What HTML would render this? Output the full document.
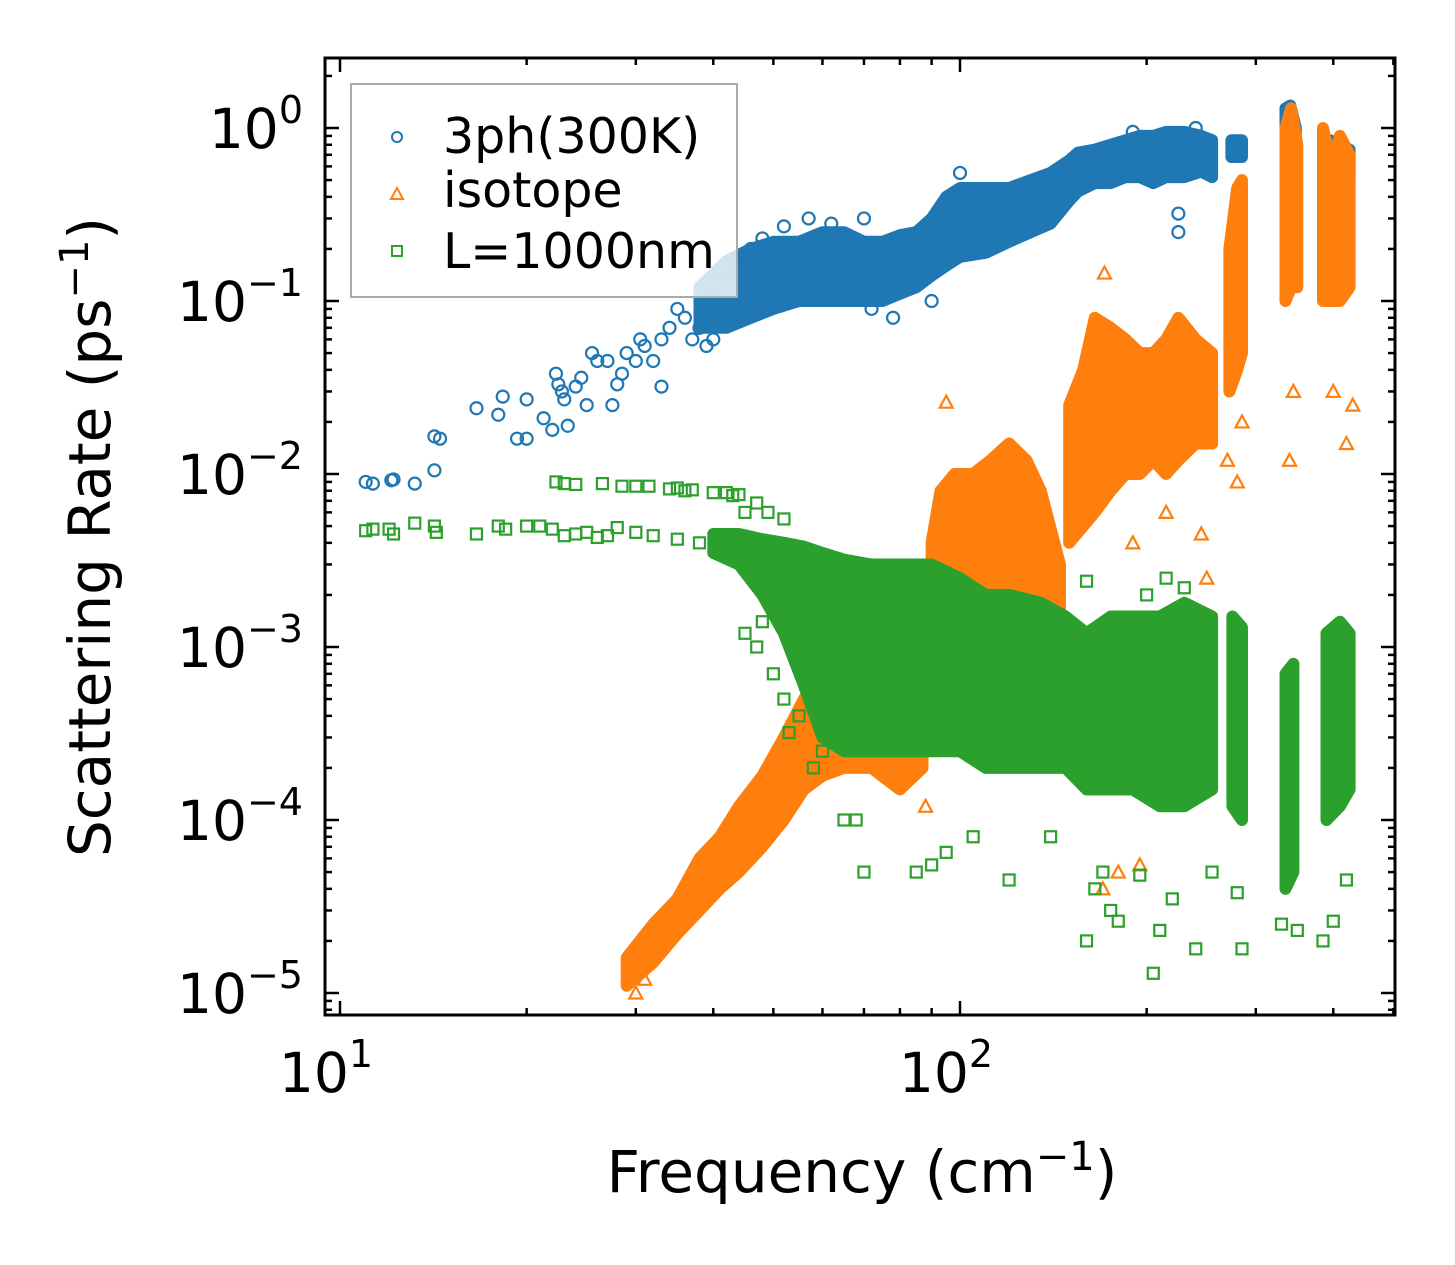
<!DOCTYPE html>
<html><head><meta charset="utf-8"><style>
html,body{margin:0;padding:0;background:#fff;}
svg{display:block;font-family:"DejaVu Sans","Liberation Sans",sans-serif;}
</style></head><body>
<svg id="chart" width="1455" height="1265" viewBox="0 0 1455 1265" xmlns="http://www.w3.org/2000/svg">
<rect width="1455" height="1265" fill="#fff"/>
<g id="data"></g>
<g id="axes"></g>
<text transform="translate(110,537) rotate(-90)" text-anchor="middle" font-size="58">Scattering Rate (ps<tspan dy="-22" font-size="40">−1</tspan><tspan dy="22">)</tspan></text>
<text x="862" y="1192" text-anchor="middle" font-size="58">Frequency (cm<tspan dy="-22" font-size="40">−1</tspan><tspan dy="22">)</tspan></text>
<g>
<rect x="351" y="84" width="386" height="213" fill="#fff" fill-opacity="0.8" stroke="#aaa" stroke-width="2"/>
<g><circle cx="397" cy="137" r="5" fill="none" stroke="#1f77b4" stroke-width="2"/><text x="443" y="153" font-size="49">3ph(300K)</text></g>
<g><path d="M391,199 L397,188 L403,199 Z" fill="none" stroke="#ff7f0e" stroke-width="2"/><text x="443" y="207" font-size="49">isotope</text></g>
<g><rect x="392" y="246" width="10" height="10" fill="none" stroke="#2ca02c" stroke-width="2"/><text x="443" y="268" font-size="49">L=1000nm</text></g>
</g>
</svg>
<script>
const xTicks=[10,100];
const yTicks=[0,-1,-2,-3,-4,-5];
const blueBands=[
[[38,0.07,0.12],[42,0.07,0.17],[46,0.08,0.2],[50,0.09,0.22],[55,0.1,0.22],[60,0.1,0.25],[65,0.1,0.25],[70,0.1,0.22],[75,0.1,0.22],[80,0.11,0.24],[85,0.12,0.25],[90,0.14,0.3],[95,0.16,0.4],[100,0.18,0.45],[110,0.19,0.45],[120,0.22,0.45],[130,0.25,0.5],[140,0.28,0.55],[150,0.38,0.65],[155,0.43,0.72],[165,0.48,0.75],[175,0.48,0.8],[185,0.52,0.85],[195,0.52,0.9],[205,0.48,0.9],[215,0.52,0.95],[230,0.52,0.95],[245,0.56,0.9],[255,0.52,0.85]],
[[274,0.68,0.85],[285,0.68,0.85]],
[[335,0.4,1.3],[341,0.45,1.35],[348,0.4,1.0]],
[[395,0.5,0.85],[410,0.5,0.8],[425,0.5,0.75]]];
const blueScatter=[[11.0,0.009],[11.3,0.0088],[12.1,0.0092],[12.2,0.0093],[13.2,0.0088],[14.2,0.0105],[14.2,0.0165],[14.5,0.016],[16.6,0.024],[18.0,0.022],[18.3,0.028],[19.3,0.016],[20.0,0.016],[20.0,0.027],[21.3,0.021],[22.0,0.018],[22.3,0.038],[22.5,0.033],[22.8,0.03],[23.3,0.019],[23.0,0.027],[24.0,0.032],[24.5,0.036],[25,0.025],[25.5,0.05],[26,0.045],[27,0.045],[27.5,0.025],[28,0.033],[28.5,0.038],[29,0.05],[30,0.045],[30.5,0.06],[31,0.055],[32,0.045],[33,0.032],[33,0.06],[34,0.07],[35,0.09],[36,0.08],[37,0.06],[38,0.07],[38.5,0.1],[39,0.055],[40,0.06],[41,0.12],[42,0.15],[44,0.18],[46,0.2],[48,0.23],[52,0.27],[57,0.3],[62,0.28],[70,0.3],[72,0.09],[78,0.08],[90,0.1],[100,0.55],[150,0.55],[190,0.95],[225,0.25],[225,0.32],[240,1.0]];
const orangeBands=[
[[29,1.1e-5,1.6e-5],[32,1.5e-5,2.5e-5],[35,2.2e-5,3.5e-5],[38,3e-5,6e-5],[41,4e-5,8e-5],[44,5e-5,1.2e-4],[48,7e-5,1.8e-4],[52,1e-4,3e-4],[56,1.5e-4,5e-4],[60,1.8e-4,7e-4],[65,2e-4,8e-4],[72,2e-4,6e-4],[80,1.5e-4,5e-4],[87,2e-4,5e-4]],
[[90,5e-4,4e-3],[93,1e-3,8e-3],[98,1.5e-3,1e-2],[105,1.5e-3,1e-2],[112,1.5e-3,1.2e-2],[120,1.2e-3,1.5e-2],[128,1e-3,1.2e-2],[135,8e-4,8e-3],[145,5e-4,3e-3]],
[[150,4e-3,2.5e-2],[158,5e-3,4e-2],[165,6e-3,8e-2],[175,8e-3,7e-2],[185,1e-2,6e-2],[195,1e-2,5e-2],[205,1.2e-2,5e-2],[215,1e-2,6e-2],[225,1.2e-2,8e-2],[240,1.5e-2,6e-2],[255,1.5e-2,5e-2]],
[[272,3e-2,0.2],[280,4e-2,0.45],[285,5e-2,0.5]],
[[335,0.1,1.0],[342,0.12,1.3],[350,0.12,0.8]],
[[385,0.1,1.0],[398,0.1,0.6],[410,0.1,0.9],[425,0.12,0.7]]];
const orangeScatter=[[95,0.026],[171,0.145],[190,0.004],[210,0.013],[215,0.006],[245,0.0045],[250,0.0025],[270,0.012],[280,0.009],[285,0.02],[340,0.012],[345,0.03],[400,0.03],[420,0.015],[430,0.025],[88,1.2e-4],[180,5e-5],[170,4e-5],[195,5.5e-5],[30,1e-5],[31,1.2e-5]];
const greenBands=[
[[40,3.5e-3,4.5e-3],[44,3e-3,4.5e-3],[48,2e-3,4.2e-3],[52,1.2e-3,4e-3],[56,6e-4,3.8e-3],[60,3e-4,3.5e-3],[65,2.5e-4,3.2e-3],[72,2.5e-4,3e-3],[80,2.5e-4,3e-3],[90,2.5e-4,3e-3],[100,2.5e-4,2.5e-3],[110,2e-4,2e-3],[120,2e-4,2e-3],[135,2e-4,1.8e-3],[148,2e-4,1.5e-3],[160,1.5e-4,1.2e-3],[175,1.5e-4,1.5e-3],[190,1.5e-4,1.5e-3],[210,1.2e-4,1.5e-3],[230,1.2e-4,1.8e-3],[255,1.5e-4,1.5e-3]],
[[275,1.2e-4,1.5e-3],[285,1e-4,1.3e-3]],
[[335,4e-5,7e-4],[345,5e-5,8e-4]],
[[390,1e-4,1.2e-3],[410,1.2e-4,1.4e-3],[425,1.5e-4,1.2e-3]]];
const greenScatter=[[11,0.0047],[11.3,0.0048],[12,0.0048],[12.2,0.0045],[13.2,0.0052],[14.2,0.005],[14.3,0.0046],[16.6,0.0045],[18,0.005],[18.5,0.0048],[20,0.005],[21,0.005],[22,0.0048],[23,0.0044],[24,0.0045],[25,0.0046],[26,0.0043],[27,0.0044],[28,0.0049],[30,0.0046],[32,0.0044],[35,0.0042],[38,0.004],[22.3,0.009],[23,0.0088],[24,0.0087],[26.5,0.0088],[28.5,0.0085],[30,0.0085],[31.5,0.0085],[34,0.0082],[35,0.0083],[36,0.008],[37,0.0081],[40,0.0078],[42,0.0078],[43,0.0075],[44,0.0076],[45,0.006],[47,0.0068],[49,0.006],[52,0.0055],[45,0.0012],[47,0.001],[48,0.0014],[50,0.0007],[52,0.0005],[53,0.00032],[55,0.0004],[60,0.00025],[58,0.0002],[65,0.0001],[68,0.0001],[70,5e-5],[85,5e-5],[90,5.5e-5],[95,6.5e-5],[105,8e-5],[120,4.5e-5],[140,8e-5],[160,2e-5],[165,4e-5],[170,5e-5],[175,3e-5],[180,2.6e-5],[195,4.8e-5],[205,1.3e-5],[210,2.3e-5],[220,3.5e-5],[240,1.8e-5],[255,5e-5],[280,3.8e-5],[285,1.8e-5],[330,2.5e-5],[350,2.3e-5],[385,2e-5],[400,2.6e-5],[420,4.5e-5],[215,0.0025],[230,0.0022],[200,0.002],[160,0.0024],[190,0.0012]];

const NS='http://www.w3.org/2000/svg';
const L=325,R=1395,T=58,B=1015;
function X(f){return 340+620*Math.log10(f/10);}
function Y(v){return 128-173*Math.log10(v);}
const dataG=document.getElementById('data');
const axG=document.getElementById('axes');
function mk(tag,attrs,parent){const e=document.createElementNS(NS,tag);for(const k in attrs)e.setAttribute(k,attrs[k]);parent.appendChild(e);return e;}
const clip=mk('clipPath',{id:'cp'},dataG);mk('rect',{x:L,y:T,width:R-L,height:B-T},clip);
dataG.setAttribute('clip-path','url(#cp)');
function bands(arr,color,name){
  arr.forEach(seg=>{
    let pts=seg.map(d=>X(d[0]).toFixed(1)+','+Y(d[2]).toFixed(1));
    pts=pts.concat(seg.slice().reverse().map(d=>X(d[0]).toFixed(1)+','+Y(d[1]).toFixed(1)));
    const p=mk('polygon',{points:pts.join(' '),fill:color,stroke:color,'stroke-width':12,'stroke-linejoin':'round'},dataG);
    
    
  });
}
function scatter(arr,color,shape,name){
  arr.forEach(d=>{
    const x=X(d[0]),y=Y(d[1]);let e;
    if(shape==='c')e=mk('circle',{cx:x,cy:y,r:6,fill:'none',stroke:color,'stroke-width':2.2},dataG);
    else if(shape==='t')e=mk('path',{d:`M${x-6.5},${y+5.5}L${x},${y-6.5}L${x+6.5},${y+5.5}Z`,fill:'none',stroke:color,'stroke-width':2.2},dataG);
    else e=mk('rect',{x:x-5.5,y:y-5.5,width:11,height:11,fill:'none',stroke:color,'stroke-width':2.2},dataG);
    
    
  });
}
bands(blueBands,'#1f77b4','3ph-cloud');scatter(blueScatter,'#1f77b4','c','3ph-point');
bands(orangeBands,'#ff7f0e','isotope-cloud');scatter(orangeScatter,'#ff7f0e','t','isotope-point');
bands(greenBands,'#2ca02c','l1000nm-cloud');scatter(greenScatter,'#2ca02c','s','l1000nm-point');

const fr=mk('rect',{x:L,y:T,width:R-L,height:B-T,fill:'none',stroke:'#000','stroke-width':3},axG);


for(let dec=1;dec<=2;dec++){for(let m=1;m<10;m++){const f=m*Math.pow(10,dec);const x=X(f);if(x<L||x>R)continue;const len=m===1?14:7;
  mk('line',{x1:x,y1:B,x2:x,y2:B-len,stroke:'#000','stroke-width':2.5},axG);
  mk('line',{x1:x,y1:T,x2:x,y2:T+len,stroke:'#000','stroke-width':2.5},axG);}}
xTicks.forEach(f=>{const t=mk('text',{x:X(f)-14,y:1092,'text-anchor':'middle','font-size':55},axG);t.textContent='10';
  const s=mk('tspan',{dy:-25,'font-size':38},t);s.textContent=String(Math.round(Math.log10(f)));
  
  });
for(let e=-6;e<=0;e++){for(let m=1;m<10;m++){const v=m*Math.pow(10,e);const y=Y(v);if(y<T||y>B)continue;const len=m===1?14:7;
  mk('line',{x1:L,y1:y,x2:L+len,y2:y,stroke:'#000','stroke-width':2.5},axG);
  mk('line',{x1:R,y1:y,x2:R-len,y2:y,stroke:'#000','stroke-width':2.5},axG);}}
yTicks.forEach(e=>{const y=Y(Math.pow(10,e));const t=mk('text',{x:303,y:y+20,'text-anchor':'end','font-size':55},axG);
  const a=mk('tspan',{},t);a.textContent='10';
  const s=mk('tspan',{dy:-25,'font-size':38},t);s.textContent=e===0?'0':'−'+(-e);
  
  });
</script>
</body></html>
